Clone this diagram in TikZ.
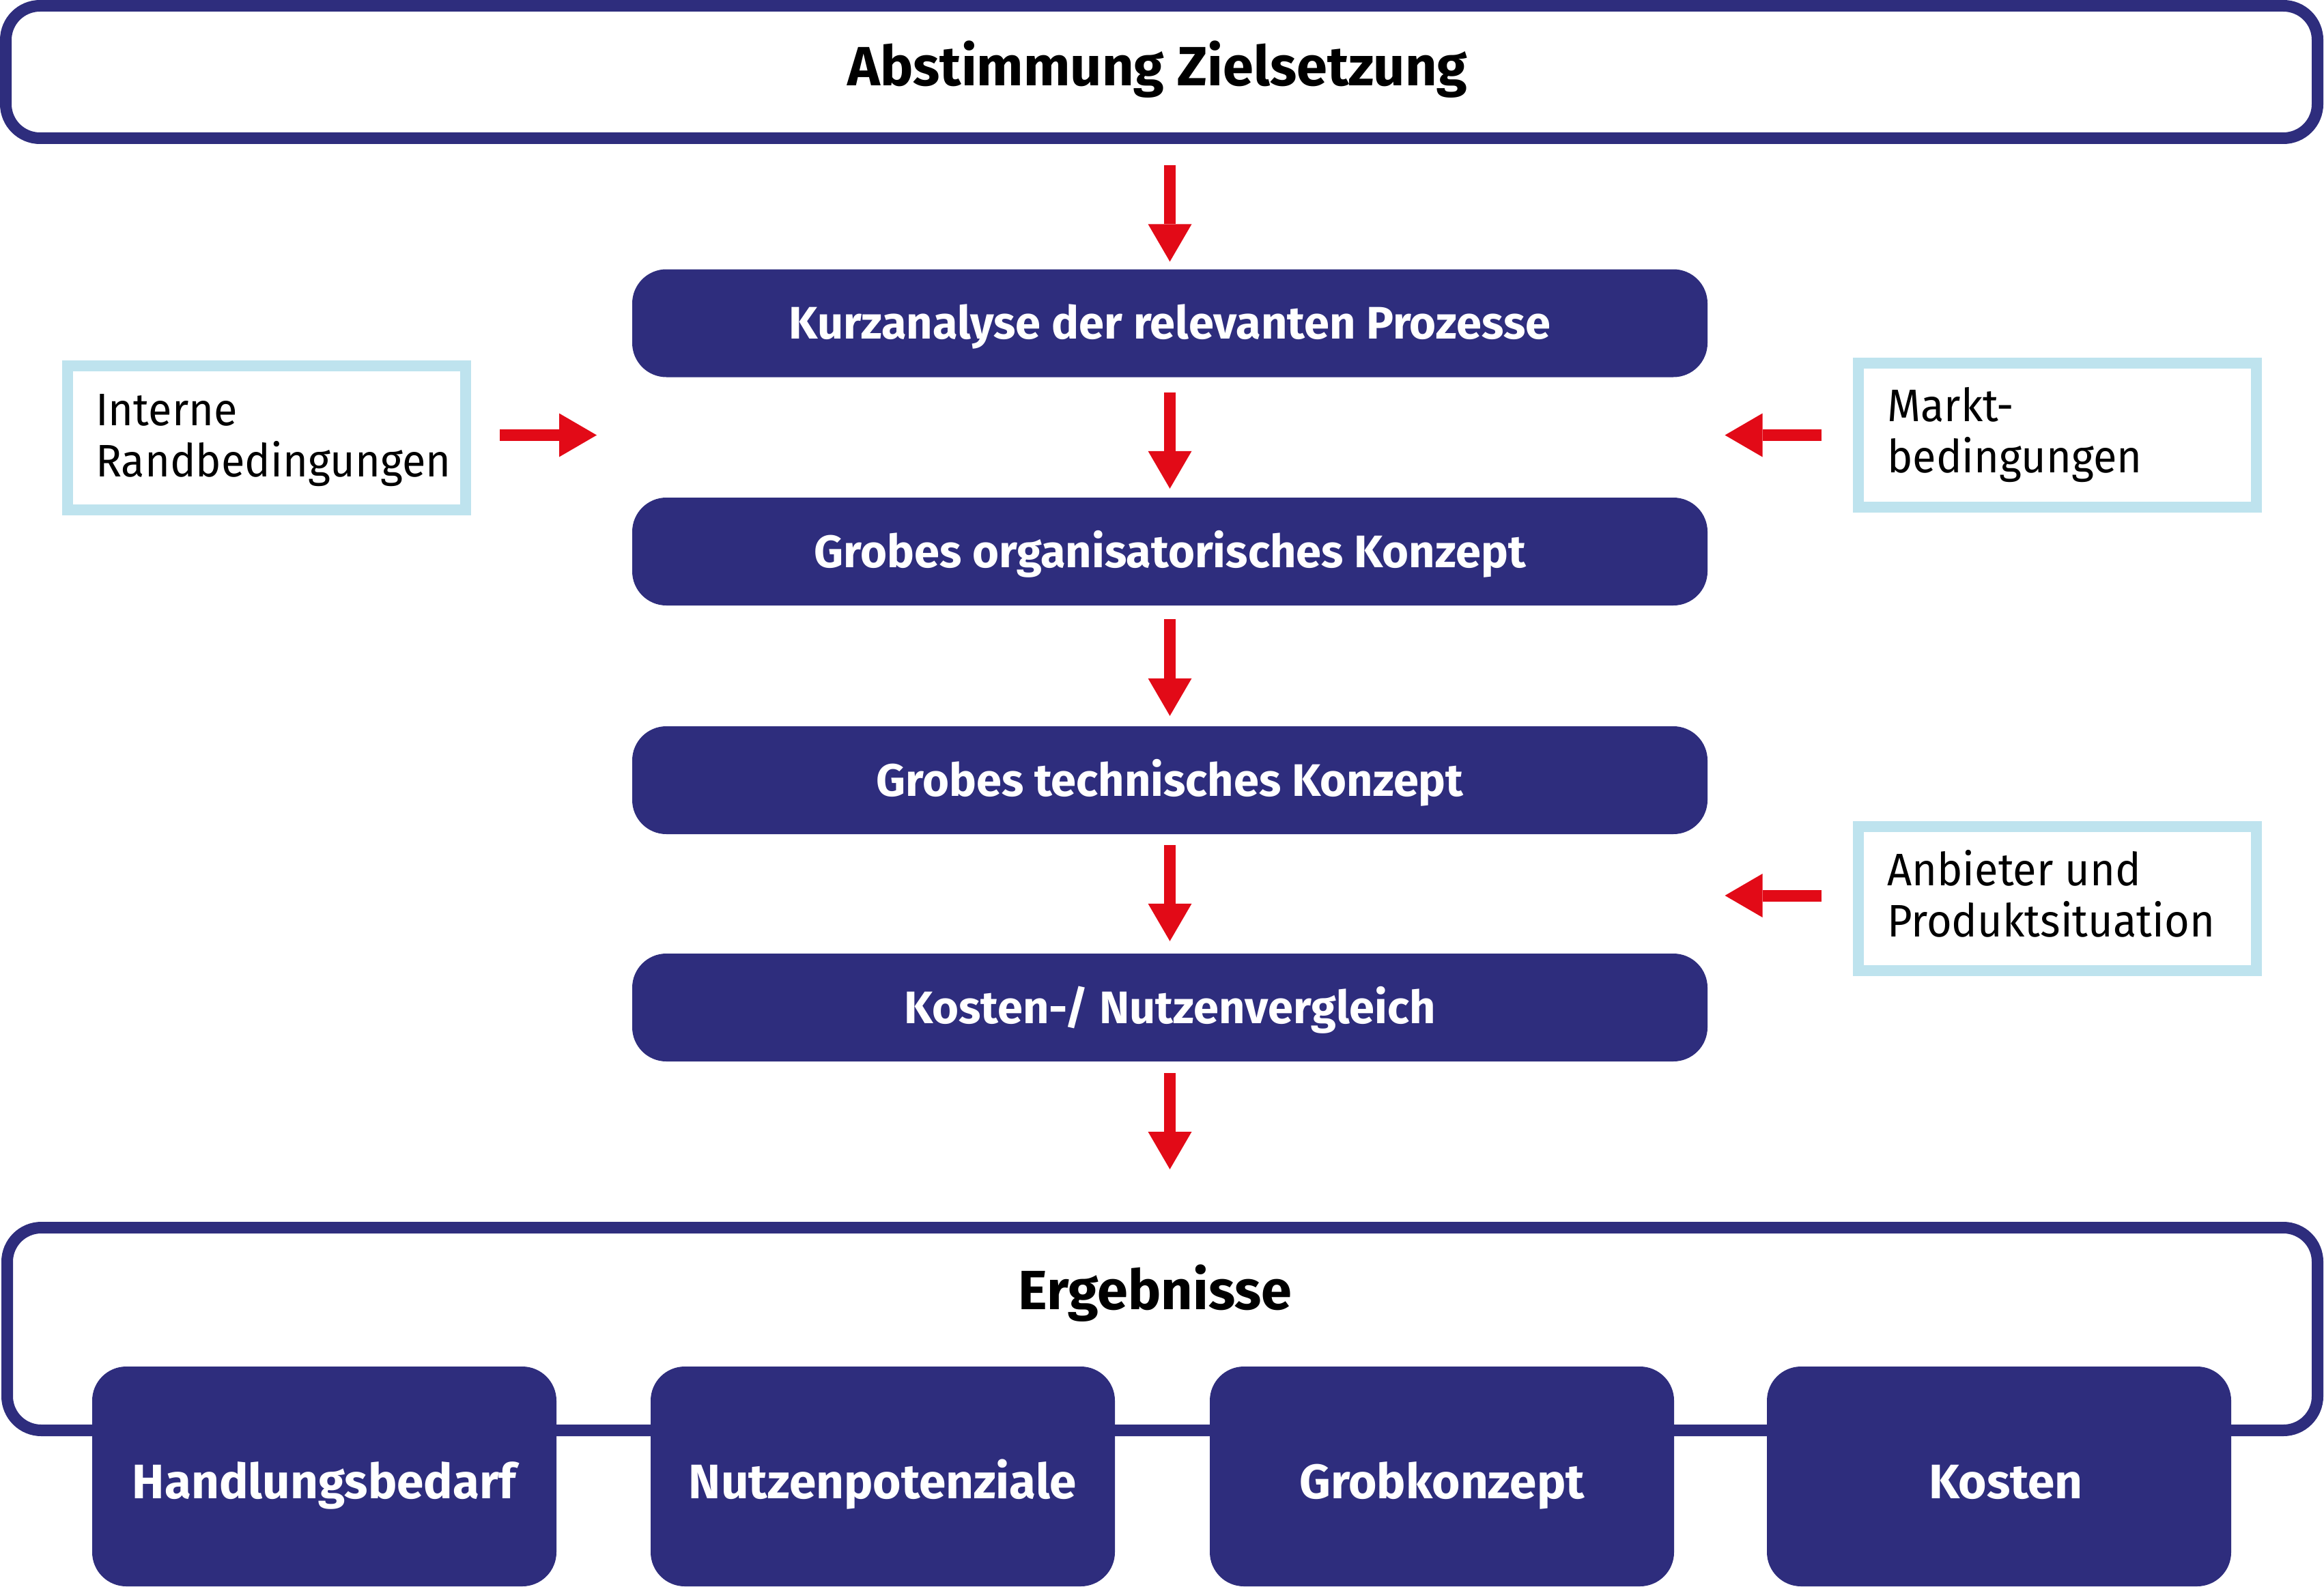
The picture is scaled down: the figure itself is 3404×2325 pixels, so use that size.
\documentclass[tikz,border=0pt]{standalone}
\usepackage{fontspec}
\setmainfont{Fira Sans}
\newfontfamily\infofont{Fira Sans}[FakeStretch=0.945]
\usetikzlibrary{arrows.meta,calc}
\definecolor{navy}{HTML}{2E2D7D}
\definecolor{arred}{HTML}{E20A17}
\definecolor{lblue}{HTML}{BEE3EE}
\begin{document}
\begin{tikzpicture}[x=1pt,y=-1pt,
  frame/.style={draw=navy, line width=17pt, rounded corners=50pt, inner sep=0pt},
  stepbox/.style={fill=navy, rounded corners=50pt, minimum width=1575pt, minimum height=158pt,
    inner sep=0pt, text=white, font=\fontsize{66.8}{75}\selectfont\bfseries,
    text height=46pt, text depth=0pt},
  resbox/.style={fill=navy, rounded corners=50pt, minimum width=680pt, minimum height=322pt,
    inner sep=0pt, text=white, font=\fontsize{71}{80}\selectfont\bfseries,
    text height=64pt, text depth=0pt},
  infobox/.style={draw=lblue, line width=16pt, minimum width=583pt, minimum height=211pt, inner sep=0pt},
  infotext/.style={anchor=base west, inner sep=0pt, font=\infofont\fontsize{66.8}{75}\selectfont},
  redarr/.style={draw=arred, line width=17pt, -{Triangle[width=64pt,length=55pt,line width=0pt]}},
]
\useasboundingbox (0,0) rectangle (3404,2325);

% top frame
\node[frame, minimum width=3386pt, minimum height=194pt,
      font=\fontsize{81}{90}\selectfont\bfseries, text height=56pt, text depth=15pt]
      (top) at (1701.5,105.5) {Abstimmung Zielsetzung\hspace*{12pt}};

% process steps
\node[stepbox] (k1) at (1713.5,473.5) {Kurzanalyse der relevanten Prozesse};
\node[stepbox] (k2) at (1713.5,808) {Grobes organisatorisches Konzept};
\node[stepbox] (k3) at (1713.5,1143) {Grobes technisches Konzept};
\node[stepbox] (k4) at (1713.5,1476) {Kosten-/ Nutzenvergleich};

% results frame
\node[frame, minimum width=3384pt, minimum height=297pt] (erg) at (1702.5,1947) {};
\node[anchor=base, inner sep=0pt, font=\fontsize{81}{90}\selectfont\bfseries]
      (ergt) at (1692,1918) {Ergebnisse};

\node[resbox] (r1) at (475,2163) {Handlungsbedarf};
\node[resbox] (r2) at (1293,2163) {Nutzenpotenziale};
\node[resbox] (r3) at (2112,2163) {Grobkonzept};
\node[resbox] (r4) at (2928,2163) {\hspace*{20pt}Kosten};

% info boxes
\node[infobox] (intern) at (390.5,641.5) {};
\node[infotext] (interntxt) at (140,623)
  {\begin{tabular}[t]{@{}l@{}}Interne\\Randbedingungen\end{tabular}};
\node[infobox] (markt) at (3013,637.5) {};
\node[infotext] (markttxt) at (2764,617)
  {\begin{tabular}[t]{@{}l@{}}Markt-\\bedingungen\end{tabular}};
\node[infobox] (anb) at (3013,1316.5) {};
\node[infotext] (anbtxt) at (2764,1297)
  {\begin{tabular}[t]{@{}l@{}}Anbieter und\\Produktsituation\end{tabular}};

% vertical arrows
\draw[redarr] ($(top.south -| k1.north)+(0,31)$) -- ($(k1.north)+(0,-11)$);
\draw[redarr] ($(k1.south)+(0,22)$) -- ($(k2.north)+(0,-13)$);
\draw[redarr] ($(k2.south)+(0,20)$) -- ($(k3.north)+(0,-15)$);
\draw[redarr] ($(k3.south)+(0,16)$) -- ($(k4.north)+(0,-18)$);
\draw[redarr] ($(k4.south)+(0,17)$) -- ($(erg.north -| k4.south)+(0,-77)$);

% horizontal arrows
\draw[redarr] ($(intern.east)+(42,-4)$) -- ($(intern.east)+(184,-4)$);
\draw[redarr] ($(markt.west)+(-46,0)$) -- ($(markt.west)+(-187,0)$);
\draw[redarr] ($(anb.west)+(-46,-4.5)$) -- ($(anb.west)+(-187,-4.5)$);
\end{tikzpicture}
\end{document}
